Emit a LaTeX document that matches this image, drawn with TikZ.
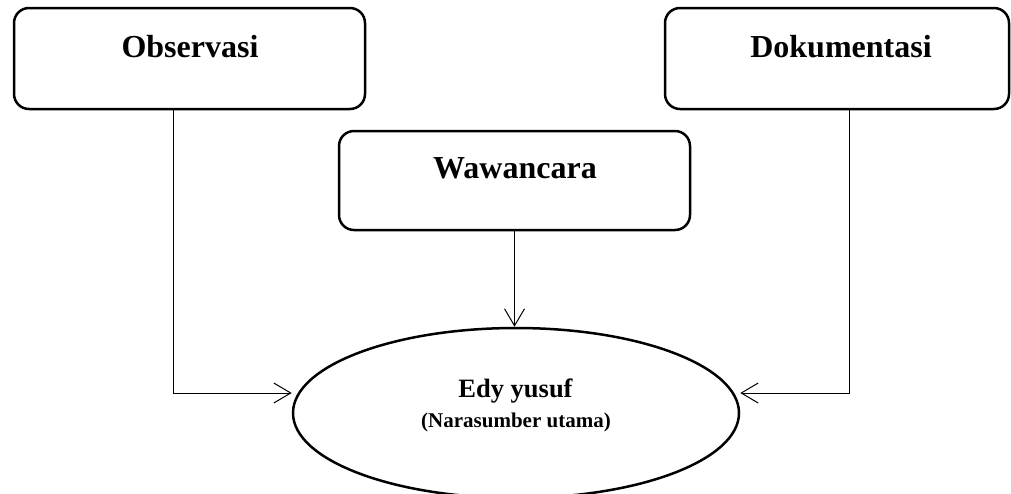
\documentclass[tikz,border=0pt]{standalone}
\usepackage{fontspec}
\setmainfont{Liberation Serif}
\usetikzlibrary{shapes.geometric,arrows.meta}
\begin{document}
\begin{tikzpicture}[x=1pt,y=-1pt,
  box/.style={draw,line width=2.5pt,rounded corners=15pt,inner sep=0pt},
  ell/.style={draw,ellipse,line width=2.5pt,inner sep=0pt,minimum width=446pt,minimum height=170pt},
  boxtxt/.style={anchor=base,inner sep=0pt,font=\fontsize{32}{36}\selectfont\bfseries},
  conn/.style={line width=1pt,-{Straight Barb[length=17pt,width=20pt,line width=1pt]}}
]
\useasboundingbox (0,0) rectangle (1011,493);
\fill[white] (0,0) rectangle (1011,493);
% boxes
\node[box,minimum width=351pt,minimum height=101pt] (obs) at (189.5,58.5) {};
\node[boxtxt] (obst) at (190,57) {Observasi};
\node[box,minimum width=344pt,minimum height=101pt] (dok) at (837,58.5) {};
\node[boxtxt] (dokt) at (841,57) {Dokumentasi};
\node[box,minimum width=351pt,minimum height=99pt] (waw) at (514.5,180.5) {};
\node[boxtxt] (wawt) at (515,178) {Wawancara};
% ellipse
\node[ell] (ell) at (516,413) {};
\node[anchor=base,inner sep=0pt,font=\fontsize{26.5}{30}\selectfont\bfseries] (edy) at (515.5,397) {Edy yusuf};
\node[anchor=base,inner sep=0pt,font=\fontsize{21}{24}\selectfont\bfseries] (nar) at (516,427) {(Narasumber utama)};
% connectors
\coordinate (oL) at (173,393);
\coordinate (dL) at (849,393);
\draw[conn] (obs.south -| oL) |- (ell.west |- oL);
\draw[conn] (dok.south -| dL) |- (ell.east |- dL);
\draw[conn] (waw.south) -- (waw.south |- ell.north);
\end{tikzpicture}
\end{document}
